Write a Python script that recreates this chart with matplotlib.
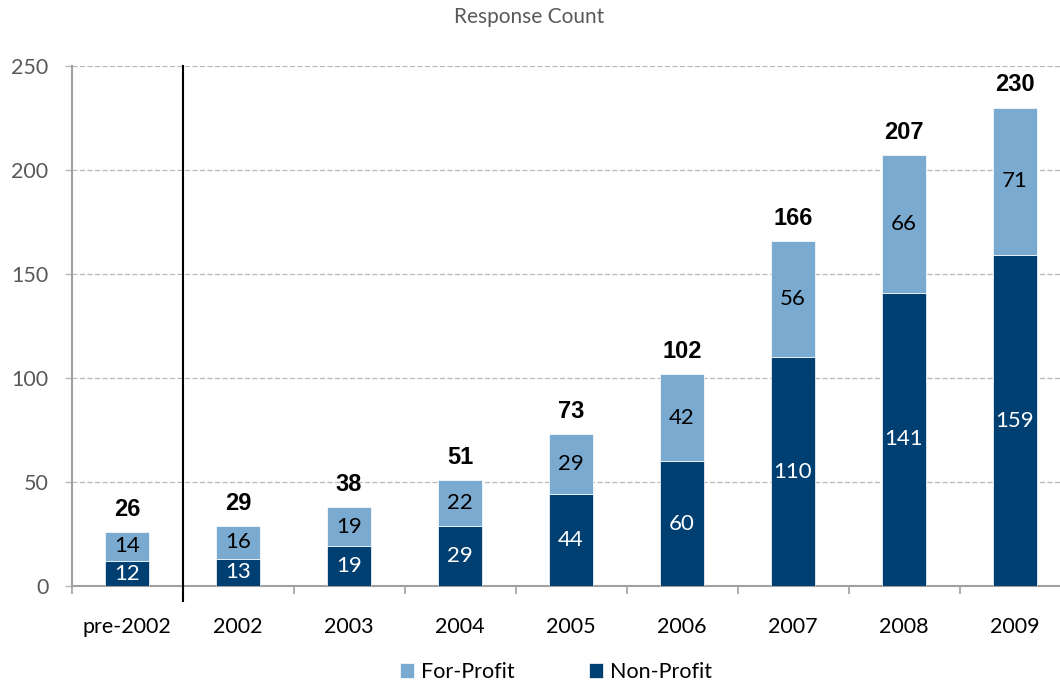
import matplotlib
matplotlib.use('Agg')
import matplotlib.pyplot as plt
import numpy as np

categories = ["pre-2002", "2002", "2003", "2004", "2005", "2006", "2007", "2008", "2009"]
non_profit = [12, 13, 19, 29, 44, 60, 110, 141, 159]
for_profit = [14, 16, 19, 22, 29, 42, 56, 66, 71]
totals = [26, 29, 38, 51, 73, 102, 166, 207, 230]

LIGHT = "#7BAAD1"
DARK = "#003F72"
GRID = "#B8B8B8"
AXIS = "#A0A0A0"

plt.rcParams['font.family'] = ['Lato', 'DejaVu Sans']

fig = plt.figure(figsize=(10.6, 6.85), dpi=100)
# axes run past the right edge, like the cropped original
ax = fig.add_axes([71.5 / 1060, 99 / 685, 999 / 1060, 520 / 685])

x = np.arange(len(categories))
w = 0.4
b1 = ax.bar(x, non_profit, w, color=DARK, edgecolor="white", linewidth=0.5, zorder=3, label="Non-Profit")
b2 = ax.bar(x, for_profit, w, bottom=non_profit, color=LIGHT, edgecolor="white", linewidth=0.5,
            zorder=3, label="For-Profit")

for i in range(len(categories)):
    ax.text(x[i], non_profit[i] / 2, str(non_profit[i]), ha="center", va="center",
            color="white", fontsize=16, zorder=4)
    ax.text(x[i], non_profit[i] + for_profit[i] / 2, str(for_profit[i]), ha="center", va="center",
            color="black", fontsize=16, zorder=4)
    ax.annotate(str(totals[i]), (x[i], totals[i]), xytext=(0, 8), textcoords="offset points",
                ha="center", va="bottom", fontsize=17, fontweight="bold",
                family=["Liberation Sans", "DejaVu Sans"], zorder=4)

ax.set_xlim(-0.5, len(categories) - 0.5)
ax.set_ylim(0, 250)
ax.set_yticks([0, 50, 100, 150, 200, 250])
ax.yaxis.grid(True, linestyle=(0, (4, 2)), color=GRID, linewidth=0.9, zorder=0)
ax.set_axisbelow(True)

ax.set_xticks(x, categories)
ax.set_xticks(np.arange(-0.5, len(categories)), minor=True)
ax.tick_params(axis="x", which="major", length=0, pad=22, labelsize=15.5, labelcolor="black")
ax.tick_params(axis="x", which="minor", length=6, color=AXIS, width=1.2)
ax.tick_params(axis="y", length=5, color=GRID, width=1, labelsize=15.5, labelcolor="#595959", pad=11.5)

for s in ["top", "right"]:
    ax.spines[s].set_visible(False)
for s in ["left", "bottom"]:
    ax.spines[s].set_color(AXIS)
    ax.spines[s].set_linewidth(1.5)

# separator between pre-2002 and the yearly bars
ax.plot([0.5, 0.5], [-7, 250], color="black", linewidth=1.5, clip_on=False, zorder=5)

fig.text(529 / 1060, 1 - 17 / 685, "Response Count", ha="center", va="center",
         fontsize=15, color="#595959")

ax.legend(handles=[b2, b1], labels=["For-Profit", "Non-Profit"], loc="center",
          bbox_to_anchor=(556 / 1060, 1 - 672 / 685), bbox_transform=fig.transFigure,
          ncol=2, frameon=False, fontsize=15.5, handlelength=0.65, handleheight=0.65,
          handletextpad=0.35, columnspacing=3.45)

fig.savefig("out.png", dpi=100, facecolor="white")
plt.close(fig)
